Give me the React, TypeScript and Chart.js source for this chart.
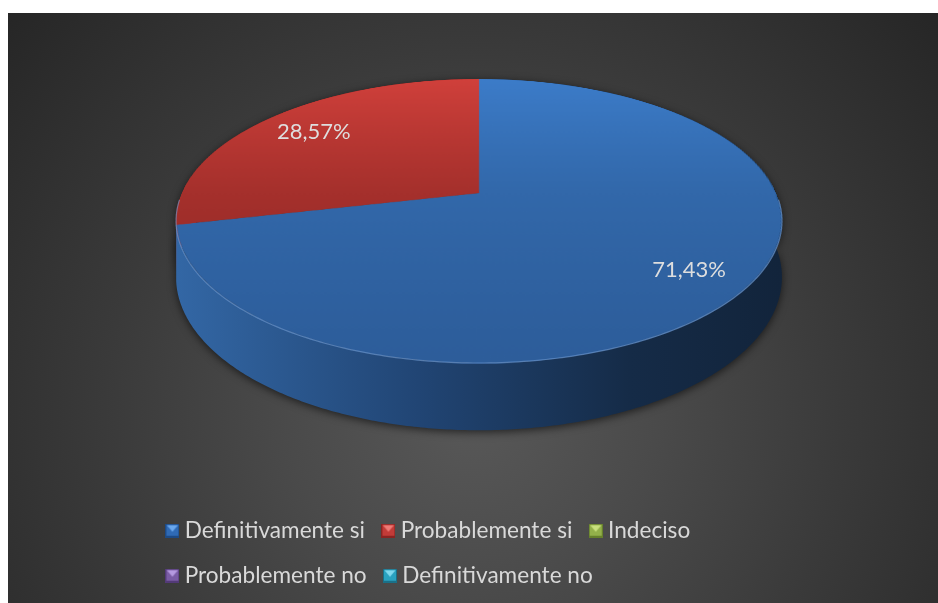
import React, { useEffect, useRef } from "react";
import { Chart, registerables } from "chart.js";

Chart.register(...registerables);

// ---- data ----
const categories = [
  "Definitivamente si",
  "Probablemente si",
  "Indeciso",
  "Probablemente no",
  "Definitivamente no",
];
const shares = [71.43, 28.57, 0, 0, 0];

// ---- styles ----
const topColors = [
  ["#3c7cc9", "#3268aa", "#2d5d9a"],
  ["#d0403b", "#a5302c", "#8a2623"],
  ["#9bbb59", "#86a34a", "#6f883c"],
  ["#8064a2", "#6d548b", "#5a4573"],
  ["#4bacc6", "#3c93aa", "#2f7a8e"],
];
const sideColors = [
  ["#3367a5", "#214574", "#152b47", "#12243b"],
  ["#b2342f", "#8a2623", "#5e1a18", "#4d1412"],
  ["#86a34a", "#6f883c", "#55692e", "#445424"],
  ["#6d548b", "#5a4573", "#453559", "#372a47"],
  ["#3c93aa", "#2f7a8e", "#245e6e", "#1d4b58"],
];
const swatchColors = [
  ["#2f6ab5", "#6aa8ee", "#1d4a85"],
  ["#c23b38", "#ee7b76", "#8a2422"],
  ["#93b04a", "#c9e07e", "#66802c"],
  ["#7a5ca5", "#b59ae0", "#533a78"],
  ["#2aa2c0", "#7fd8ee", "#1a7088"],
];

const FONT = "Lato, 'Open Sans', sans-serif";
const TILT_A = 136.5;
const TILT_B = 0.197;
const HALF_W = 297;
const DEPTH = 54;
const LABEL_R = 0.8;

function fmt(v: number) {
  return v.toFixed(2).replace(".", ",") + "%";
}

function project(X0: number, Y0: number, u: number, v: number, depth: number) {
  const k = 1 / (1 - TILT_B * v);
  return [X0 + HALF_W * u * k, Y0 + (TILT_A * v + depth) * k];
}

function makeSwatch(c: string[]) {
  const s = 14;
  const cv = document.createElement("canvas");
  cv.width = s;
  cv.height = s;
  const g = cv.getContext("2d")!;
  g.fillStyle = c[2];
  g.fillRect(0, 0, s, s);
  g.fillStyle = c[0];
  g.fillRect(1, 1, s - 2, s - 3);
  g.fillStyle = c[1];
  g.beginPath();
  g.moveTo(1.5, 1.5);
  g.lineTo(s - 1.5, 1.5);
  g.lineTo(s / 2, s / 2 + 1);
  g.closePath();
  g.fill();
  return cv;
}

const pie3d = {
  id: "pie3d",
  afterDatasetsDraw(chart: any) {
    const meta = chart.getDatasetMeta(0);
    const arcs = meta.data as any[];
    if (!arcs.length) return;
    const ctx: CanvasRenderingContext2D = chart.ctx;
    const a0 = arcs[0];
    const cx = a0.x;
    const cy = a0.y;
    const R = a0.outerRadius;
    const ca = chart.chartArea;
    const X0 = (ca.left + ca.right) / 2;
    const Y0 = ca.top + TILT_A / (1 + TILT_B);

    const off = document.createElement("canvas");
    off.width = chart.canvas.width;
    off.height = chart.canvas.height;
    off.getContext("2d")!.drawImage(chart.canvas, 0, 0);

    ctx.save();
    ctx.clearRect(cx - R - 2, cy - R - 2, 2 * R + 4, 2 * R + 4);

    const mid = (a: any) => (a.startAngle + a.endAngle) / 2;
    const order = arcs
      .map((_, i) => i)
      .filter((i) => arcs[i].endAngle - arcs[i].startAngle > 1e-6)
      .sort((i, j) => Math.sin(mid(arcs[i])) - Math.sin(mid(arcs[j])));

    // side walls
    const xl = X0 - HALF_W * 1.02;
    const xr = X0 + HALF_W * 1.02;
    for (const i of order) {
      const a = arcs[i];
      const s = a.startAngle;
      const e = a.endAngle;
      const n = Math.max(8, Math.ceil((e - s) / 0.01));
      ctx.beginPath();
      for (let k = 0; k <= n; k++) {
        const p = s + ((e - s) * k) / n;
        const [x, y] = project(X0, Y0, Math.cos(p), Math.sin(p), 0);
        if (k === 0) ctx.moveTo(x, y);
        else ctx.lineTo(x, y);
      }
      for (let k = n; k >= 0; k--) {
        const p = s + ((e - s) * k) / n;
        const [x, y] = project(X0, Y0, Math.cos(p), Math.sin(p), DEPTH);
        ctx.lineTo(x, y);
      }
      ctx.closePath();
      const sc = sideColors[i % sideColors.length];
      const g = ctx.createLinearGradient(xl, 0, xr, 0);
      g.addColorStop(0, sc[0]);
      g.addColorStop(0.4, sc[1]);
      g.addColorStop(0.75, sc[2]);
      g.addColorStop(1, sc[3]);
      ctx.fillStyle = g;
      ctx.shadowColor = "rgba(0,0,0,0.6)";
      ctx.shadowBlur = 8;
      ctx.shadowOffsetY = 2;
      ctx.fill();
    }
    ctx.shadowColor = "transparent";
    ctx.shadowBlur = 0;
    ctx.shadowOffsetY = 0;

    // warped top face
    const vAt = (y: number) => {
      const d = y - Y0;
      return d / (TILT_A + TILT_B * d);
    };
    const yTop = Y0 - TILT_A / (1 + TILT_B);
    const yBot = Y0 + TILT_A / (1 - TILT_B);
    ctx.imageSmoothingEnabled = true;
    for (let Y = Math.floor(yTop); Y < Math.ceil(yBot); Y++) {
      const v0 = Math.max(-1, vAt(Y));
      const v1 = Math.min(1, vAt(Y + 1));
      if (v1 <= v0) continue;
      const vm = (v0 + v1) / 2;
      const hw = HALF_W / (1 - TILT_B * vm);
      const sy0 = cy + v0 * R;
      const sy1 = cy + v1 * R;
      ctx.drawImage(off, cx - R, sy0, 2 * R, Math.max(0.01, sy1 - sy0), X0 - hw, Y, 2 * hw, 1);
    }

    // rim highlight on the front edge
    ctx.beginPath();
    const n = 200;
    for (let k = 0; k <= n; k++) {
      const p = 0.05 + ((Math.PI - 0.1) * k) / n;
      const [x, y] = project(X0, Y0, Math.cos(p), Math.sin(p), 0);
      if (k === 0) ctx.moveTo(x, y);
      else ctx.lineTo(x, y);
    }
    ctx.strokeStyle = "rgba(120,165,225,0.55)";
    ctx.lineWidth = 1.2;
    ctx.stroke();

    // percentage labels
    ctx.fillStyle = "#dedede";
    ctx.font = "22px " + FONT;
    ctx.textAlign = "center";
    ctx.textBaseline = "middle";
    const total = shares.reduce((t, v) => t + v, 0);
    for (const i of order) {
      const p = mid(arcs[i]);
      const [x, y] = project(X0, Y0, LABEL_R * Math.cos(p), LABEL_R * Math.sin(p), 0);
      ctx.fillText(fmt((shares[i] / total) * 100), x + 4, y + 1);
    }
    ctx.restore();
  },
};

export default function App() {
  const ref = useRef<HTMLCanvasElement>(null);
  useEffect(() => {
    if (!ref.current) return;
    const swatches = swatchColors.map(makeSwatch);
    const chart = new Chart(ref.current, {
      type: "pie",
      data: {
        labels: categories,
        datasets: [
          {
            data: shares,
            borderWidth: 0,
            clip: false as any,
            backgroundColor: (c: any) => {
              const i = c.dataIndex ?? 0;
              const st = topColors[i % topColors.length];
              const ca = c.chart.chartArea;
              if (!ca) return st[1];
              const ccy = (ca.top + ca.bottom) / 2;
              const r = Math.min(ca.right - ca.left, ca.bottom - ca.top) / 2;
              const g = c.chart.ctx.createLinearGradient(0, ccy - r, 0, ccy + r);
              g.addColorStop(0, st[0]);
              g.addColorStop(0.5, st[1]);
              g.addColorStop(1, st[2]);
              return g;
            },
          },
        ],
      },
      options: {
        responsive: false,
        animation: false,
        events: [],
        layout: { padding: { left: 141, right: 129, top: 66, bottom: 6 } },
        plugins: {
          tooltip: { enabled: false },
          legend: {
            position: "bottom",
            align: "start",
            labels: {
              usePointStyle: true,
              pointStyleWidth: 2,
              padding: 22.4,
              color: "#d9d9d9",
              font: { family: FONT, size: 22.6 },
              generateLabels: () =>
                categories.map((t, i) => ({
                  text: t,
                  fillStyle: swatchColors[i][0],
                  strokeStyle: "transparent",
                  lineWidth: 0,
                  fontColor: "#d9d9d9",
                  pointStyle: swatches[i] as any,
                  hidden: false,
                  index: i,
                })),
            },
          },
        },
      },
      plugins: [pie3d],
    });
    return () => chart.destroy();
  }, []);
  return (
    <div
      style={{
        position: "fixed",
        left: 8,
        top: 13,
        width: 930,
        height: 590,
        background:
          "radial-gradient(circle farthest-corner at 50% 68%, #585858 0%, #4a4a4a 30%, #3a3a3a 60%, #262626 100%)",
      }}
    >
      <canvas ref={ref} width={930} height={590} style={{ display: "block" }} />
    </div>
  );
}
